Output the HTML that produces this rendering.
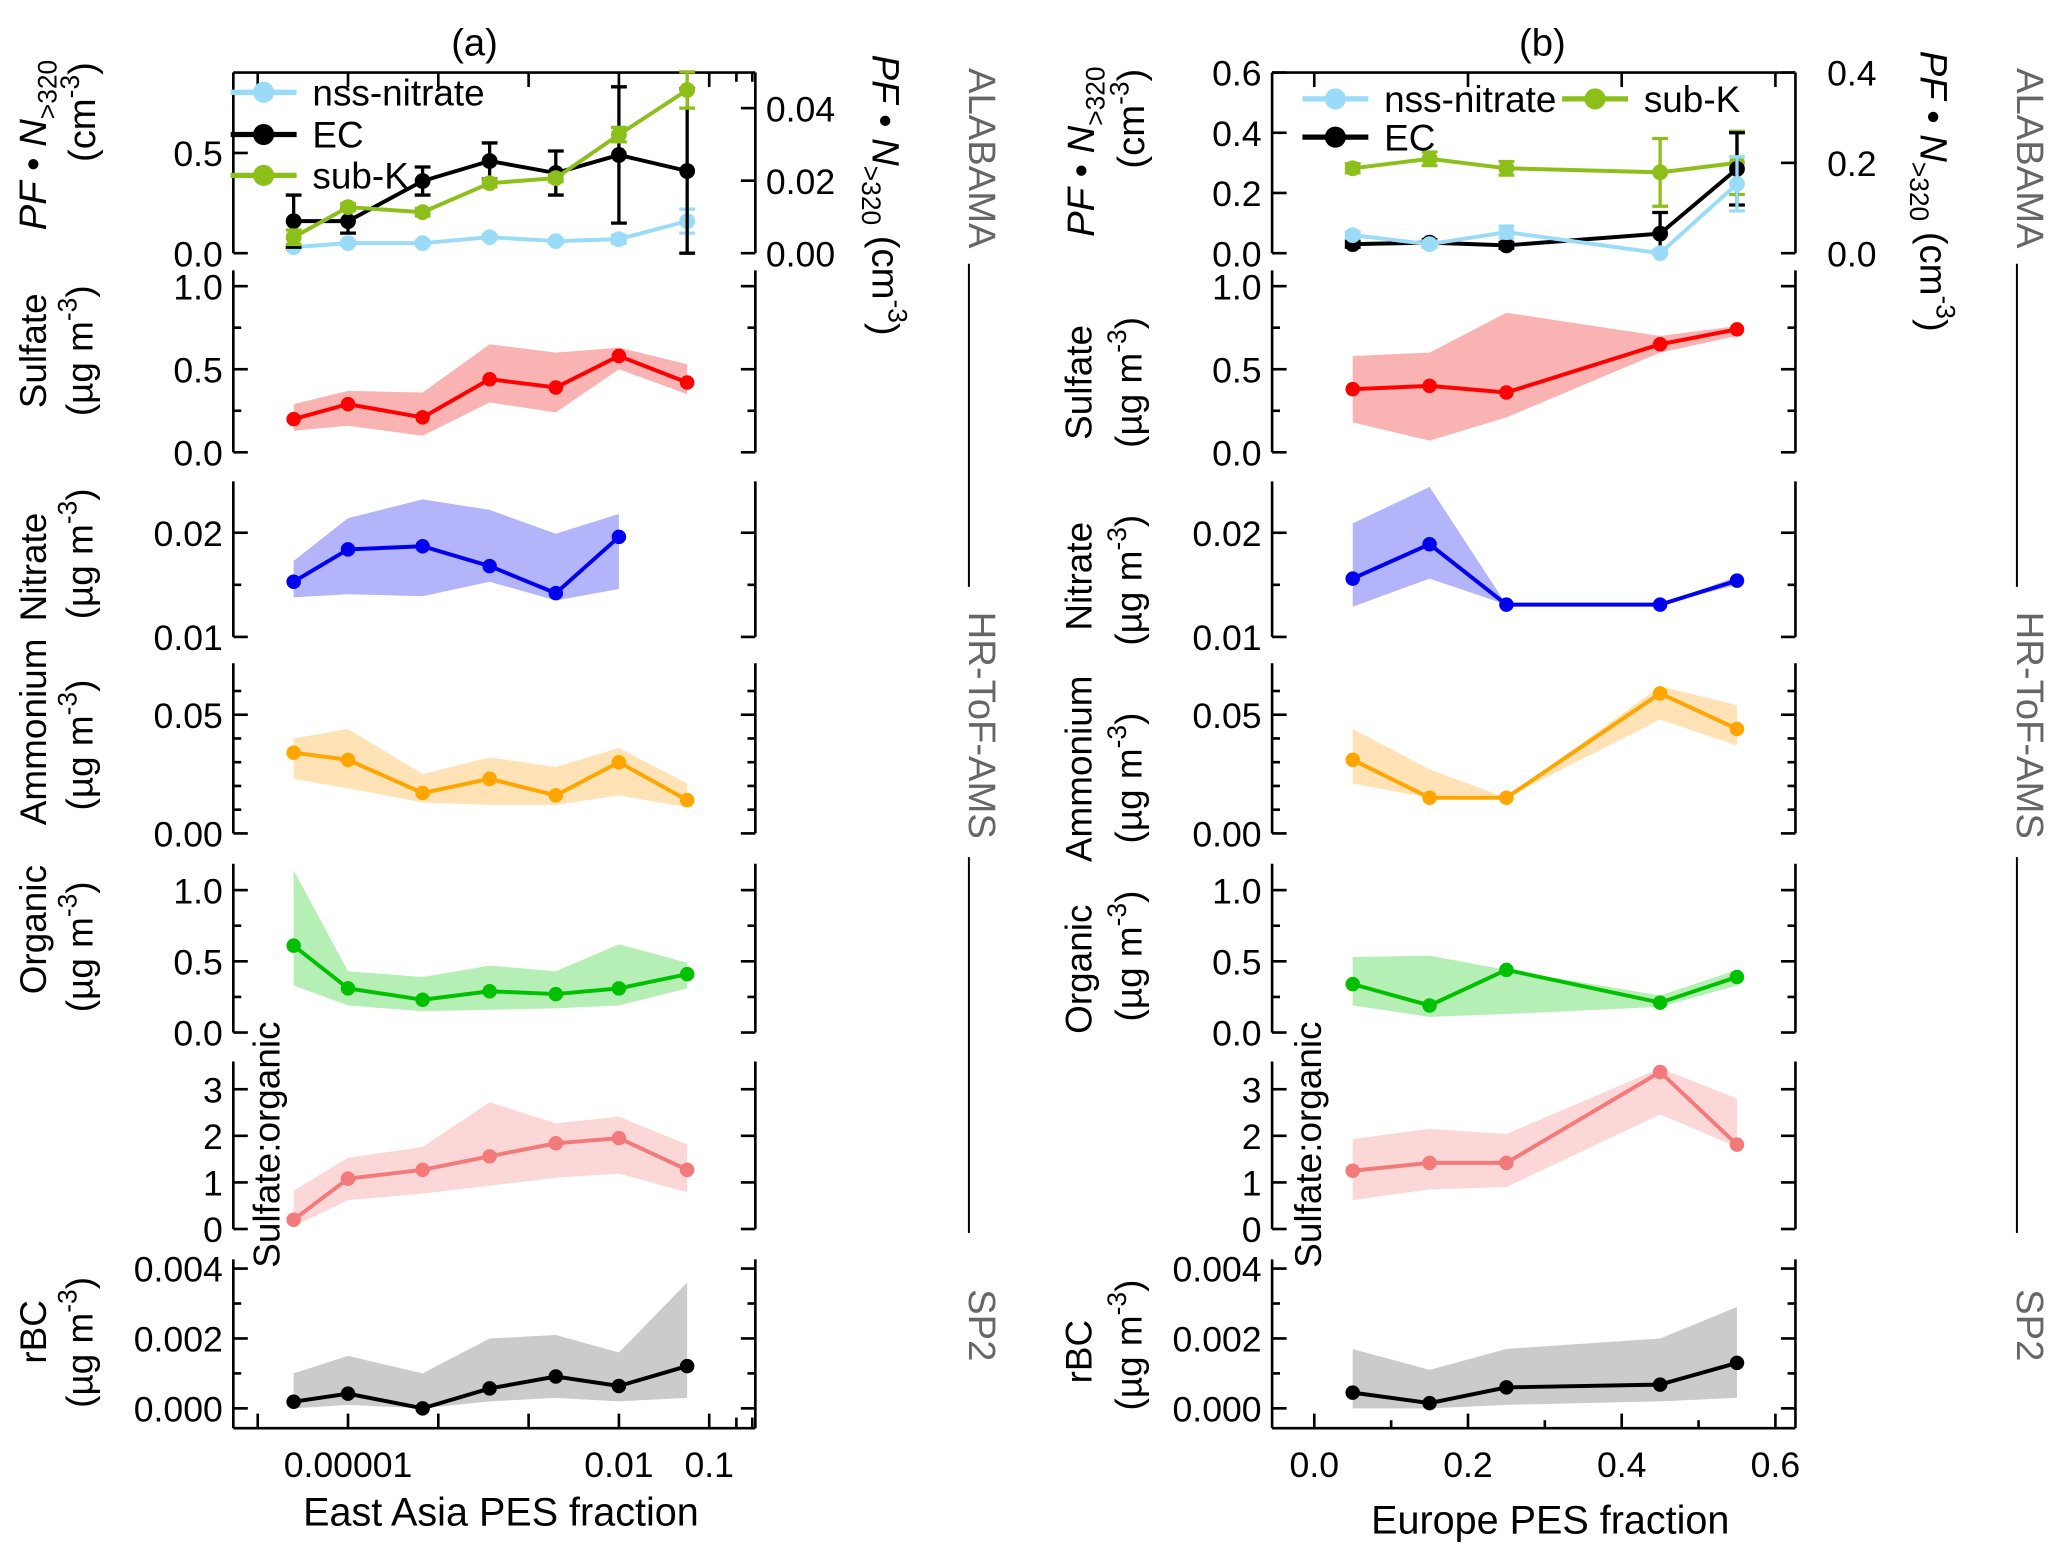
<!DOCTYPE html>
<html><head><meta charset="utf-8">
<style>
html,body{margin:0;padding:0;background:#fff;}
svg{display:block;font-family:"Liberation Sans",sans-serif;}
</style></head>
<body>
<svg id="fig" width="2067" height="1560" viewBox="0 0 1568 1183" preserveAspectRatio="none" xmlns="http://www.w3.org/2000/svg"></svg>
<script>
// ---------- data ----------
const xA = [2.5e-6, 1e-5, 6.7e-5, 3.7e-4, 2e-3, 0.01, 0.057];
const xB = [0.05, 0.15, 0.25, 0.45, 0.55];

const aNss = [0.03,0.05,0.05,0.08,0.06,0.07,0.16];
const aNssErr = [0.01,0.01,0.01,0.01,0.01,0.02,0.06];
const aEC = [0.16,0.16,0.36,0.46,0.40,0.49,0.41];
const aECErr = [0.13,0.06,0.07,0.09,0.11,0.34,0.41];
const aSubK = [0.0044,0.0127,0.0113,0.0193,0.0207,0.0327,0.045];
const aSubKErr = [0.002,0.001,0.001,0.001,0.001,0.002,0.005];

const bNss = [0.06,0.03,0.07,0.0,0.23];
const bNssErr = [0.01,0.01,0.02,0.01,0.09];
const bEC = [0.03,0.035,0.026,0.065,0.28];
const bECErr = [0.01,0.01,0.01,0.07,0.12];
const bSubK = [0.188,0.209,0.188,0.179,0.2];
const bSubKErr = [0.01,0.015,0.015,0.075,0.07];

const aSulf = [0.20,0.29,0.21,0.44,0.39,0.58,0.42];
const aSulfHi = [0.29,0.37,0.36,0.65,0.60,0.63,0.53];
const aSulfLo = [0.13,0.16,0.10,0.30,0.24,0.50,0.35];
const bSulf = [0.38,0.40,0.36,0.65,0.74];
const bSulfHi = [0.58,0.60,0.84,0.70,0.76];
const bSulfLo = [0.18,0.07,0.21,0.60,0.70];

const aNit = [0.0153,0.0184,0.0187,0.0168,0.0142,0.0196];
const aNitHi = [0.0173,0.0214,0.0232,0.0222,0.0199,0.0218];
const aNitLo = [0.0138,0.0141,0.0139,0.0153,0.0135,0.0146];
const bNit = [0.0156,0.0189,0.0131,0.0131,0.0154];
const bNitHi = [0.0209,0.0244,0.0131,0.0131,0.0158];
const bNitLo = [0.0129,0.0156,0.0131,0.0131,0.0150];

const aAmm = [0.034,0.031,0.017,0.023,0.016,0.030,0.014];
const aAmmHi = [0.040,0.044,0.025,0.032,0.028,0.036,0.021];
const aAmmLo = [0.023,0.019,0.013,0.012,0.012,0.016,0.011];
const bAmm = [0.031,0.015,0.015,0.059,0.044];
const bAmmHi = [0.044,0.027,0.015,0.062,0.054];
const bAmmLo = [0.021,0.015,0.015,0.048,0.037];

const aOrg = [0.61,0.31,0.23,0.29,0.27,0.31,0.41];
const aOrgHi = [1.14,0.43,0.39,0.47,0.43,0.62,0.49];
const aOrgLo = [0.33,0.19,0.15,0.16,0.17,0.19,0.31];
const bOrg = [0.34,0.19,0.44,0.21,0.39];
const bOrgHi = [0.53,0.54,0.44,0.26,0.44];
const bOrgLo = [0.19,0.11,0.13,0.18,0.33];

const aSO = [0.2,1.08,1.27,1.56,1.84,1.95,1.27];
const aSOHi = [0.82,1.53,1.76,2.72,2.27,2.41,1.81];
const aSOLo = [0.06,0.62,0.76,0.93,1.10,1.19,0.79];
const bSO = [1.25,1.42,1.42,3.37,1.81];
const bSOHi = [1.93,2.15,2.04,3.45,2.8];
const bSOLo = [0.62,0.85,0.9,2.46,1.76];

const aBC = [0.00019,0.00042,0.0,0.00057,0.00091,0.00064,0.00121];
const aBCHi = [0.001,0.0015,0.001,0.002,0.0021,0.0016,0.0036];
const aBCLo = [0,0.0001,0,0.0002,0.0003,0.0002,0.0003];
const bBC = [0.00045,0.00015,0.0006,0.00068,0.0013];
const bBCHi = [0.0017,0.0011,0.0017,0.002,0.0029];
const bBCLo = [0,0,0.0001,0.0002,0.0003];

// ---------- helpers ----------
const NS="http://www.w3.org/2000/svg";
const svg=document.getElementById('fig');
function el(tag,attrs,parent){const e=document.createElementNS(NS,tag);for(const k in attrs)e.setAttribute(k,attrs[k]);(parent||svg).appendChild(e);return e;}
function txt(s,x,y,opts,parent){const t=el('text',Object.assign({x:x,y:y,'font-size':27,fill:'#000'},opts||{}),parent);t.textContent=s;return t;}

const xScaleA=v=>264+(Math.log10(v)+5)*68.5;
const xScaleB=v=>997+v*583;
const L={a:[177,573],b:[965,1362]};
function lin(v0,p0,v1,p1){return v=>p0+(v-v0)*(p1-p0)/(v1-v0);}

function axisV(x,y0,y1,dir,ticks,sc,fmt,labels,name){
  const g=el('g',{});
  
  
  el('line',{x1:x,y1:y0,x2:x,y2:y1,stroke:'#000','stroke-width':2},g);
  ticks.forEach(v=>{const y=sc(v);el('line',{x1:x,y1:y,x2:x+dir*11,y2:y,stroke:'#000','stroke-width':2},g);
    if(labels){txt(fmt(v),dir>0?x-8:x+8,y+10,{'text-anchor':dir>0?'end':'start'},g);}});
}
function band(xs,lo,hi,xf,yf,col,name){
  let d='';xs.forEach((v,i)=>{d+=(i?'L':'M')+xf(v)+','+yf(hi[i]);});
  for(let i=xs.length-1;i>=0;i--)d+='L'+xf(xs[i])+','+yf(lo[i]);
  const p=el('path',{d:d+'Z',fill:col,stroke:'none'});
  
  
}
function series(xs,ys,xf,yf,col,name,r){
  const g=el('g',{});
  
  
  el('polyline',{points:ys.map((v,i)=>xf(xs[i])+','+yf(v)).join(' '),fill:'none',stroke:col,'stroke-width':3},g);
  ys.forEach((v,i)=>{const c=el('circle',{cx:xf(xs[i]),cy:yf(v),r:r||5.5,fill:col},g);
    
    });
}
function errs(xs,ys,es,xf,yf,col,name){
  const g=el('g',{});
  
  
  ys.forEach((v,i)=>{const x=xf(xs[i]),a=yf(v+es[i]),b=yf(Math.max(0,v-es[i]));
    el('path',{d:`M${x},${a}V${b}M${x-6},${a}H${x+6}M${x-6},${b}H${x+6}`,stroke:col,'stroke-width':2.5,fill:'none'},g);});
}
function ugm(x,y,name){
  const t=el('text',{'font-size':28,'text-anchor':'middle',transform:`translate(${x},${y}) rotate(-90)`});
  
  
  t.innerHTML='(µg m<tspan dy="-12" font-size="20">-3</tspan><tspan dy="12">)</tspan>';
}
function ylab(s,x,y,name){
  const t=el('text',{'font-size':28,'text-anchor':'middle',transform:`translate(${x},${y}) rotate(-90)`});
  
  
  t.textContent=s;
}

// ---------- panels ----------
const panels=[
 {key:'sulfate',top:205,bot:343,ticks:[0,0.5,1.0],minor:[0.25,0.75],v0:0,p0:343,v1:1,p1:217,f:v=>v.toFixed(1),col:'#ff0000',bcol:'#f9b3b3',
  a:[aSulf,aSulfLo,aSulfHi],b:[bSulf,bSulfLo,bSulfHi]},
 {key:'nitrate',top:365,bot:483,ticks:[0.01,0.02],minor:[0.015],v0:0.01,p0:483,v1:0.02,p1:404,f:v=>v.toFixed(2),col:'#0000ee',bcol:'#b4b4fb',
  a:[aNit,aNitLo,aNitHi],b:[bNit,bNitLo,bNitHi]},
 {key:'ammonium',top:503,bot:632,ticks:[0,0.05],minor:[0.01,0.02,0.03,0.04,0.06],v0:0,p0:632,v1:0.05,p1:542,f:v=>v.toFixed(2),col:'#ffa500',bcol:'#ffe2b6',
  a:[aAmm,aAmmLo,aAmmHi],b:[bAmm,bAmmLo,bAmmHi]},
 {key:'organic',top:655,bot:783,ticks:[0,0.5,1.0],minor:[0.25,0.75],v0:0,p0:783,v1:1,p1:675,f:v=>v.toFixed(1),col:'#00c000',bcol:'#b6efb6',
  a:[aOrg,aOrgLo,aOrgHi],b:[bOrg,bOrgLo,bOrgHi]},
 {key:'sulfate-organic',top:805,bot:932,ticks:[0,1,2,3],minor:[],v0:0,p0:932,v1:3,p1:826,f:v=>String(v),col:'#f37a7a',bcol:'#fcd7d7',
  a:[aSO,aSOLo,aSOHi],b:[bSO,bSOLo,bSOHi]},
 {key:'rbc',top:955,bot:1083,ticks:[0,0.002,0.004],minor:[0.001,0.003],v0:0,p0:1068,v1:0.002,p1:1015,f:v=>v.toFixed(3),col:'#000000',bcol:'#cbcbcb',
  a:[aBC,aBCLo,aBCHi],b:[bBC,bBCLo,bBCHi]}
];

['a','b'].forEach(side=>{
  const [xl,xr]=L[side];
  const xf=side==='a'?xScaleA:xScaleB;
  const xs=side==='a'?xA:xB;
  panels.forEach(p=>{
    const yf=lin(p.v0,p.p0,p.v1,p.p1);
    const d=p[side];
    const xsx=xs.slice(0,d[0].length);
    band(xsx,d[1],d[2],xf,yf,p.bcol,`${p.key}-band-${side}`);
    series(xsx,d[0],xf,yf,p.col,`${p.key}-line-${side}`);
    axisV(xl,p.top,p.bot,1,p.ticks,yf,p.f,true,`${p.key}-y-axis-${side}`);
    axisV(xr,p.top,p.bot,-1,p.ticks,yf,p.f,false,`${p.key}-right-axis-${side}`);
    p.minor.forEach(v=>{const y=yf(v);el('line',{x1:xl,y1:y,x2:xl+6,y2:y,stroke:'#000','stroke-width':2});el('line',{x1:xr,y1:y,x2:xr-6,y2:y,stroke:'#000','stroke-width':2});});
  });
});

// ---------- top panels ----------
(function(){
  const yL=lin(0,192,0.5,116), yR=lin(0,192,0.02,137);
  const [xl,xr]=L.a;
  el('line',{x1:xl,y1:55,x2:xr,y2:55,stroke:'#000','stroke-width':2});
  [-6,-5,-4,-3,-2,-1].forEach(e=>{const x=xScaleA(Math.pow(10,e));if(x>xl&&x<xr)el('line',{x1:x,y1:55,x2:x,y2:66,stroke:'#000','stroke-width':2});});
  [0.2,0.3].forEach(v=>{const x=xScaleA(v);el('line',{x1:x,y1:55,x2:x,y2:62,stroke:'#000','stroke-width':2});});
  axisV(xl,55,192,1,[0,0.5],yL,v=>v.toFixed(1),true,'top-left-axis-a');
  axisV(xr,55,192,-1,[0,0.02,0.04],yR,v=>v.toFixed(2),false,'top-right-axis-a');
  [0,0.02,0.04].forEach(v=>txt(v.toFixed(2),xr+8,yR(v)+10,{}));
  errs(xA,aNss,aNssErr,xScaleA,yL,'#9adcf7','nss-nitrate-errors-a');
  series(xA,aNss,xScaleA,yL,'#9adcf7','nss-nitrate-line-a',6);
  errs(xA,aEC,aECErr,xScaleA,yL,'#000','ec-errors-a');
  series(xA,aEC,xScaleA,yL,'#000','ec-line-a',6);
  errs(xA,aSubK,aSubKErr,xScaleA,yR,'#8cbf1a','subk-errors-a');
  series(xA,aSubK,xScaleA,yR,'#8cbf1a','subk-line-a',6);
  const yLb=lin(0,192,0.6,55), yRb=lin(0,192,0.4,55);
  const [bl,br]=L.b;
  el('line',{x1:bl,y1:55,x2:br,y2:55,stroke:'#000','stroke-width':2});
  [0,0.2,0.4,0.6].forEach(v=>{const x=xScaleB(v);el('line',{x1:x,y1:55,x2:x,y2:66,stroke:'#000','stroke-width':2});});
  axisV(bl,55,192,1,[0,0.2,0.4,0.6],yLb,v=>v.toFixed(1),true,'top-left-axis-b');
  axisV(br,55,192,-1,[0,0.2,0.4],yRb,v=>v.toFixed(1),false,'top-right-axis-b');
  [0,0.2,0.4].forEach(v=>txt(v.toFixed(1),br+24,yRb(v)+10,{}));
  errs(xB,bSubK,bSubKErr,xScaleB,yRb,'#8cbf1a','subk-errors-b');
  series(xB,bSubK,xScaleB,yRb,'#8cbf1a','subk-line-b',6);
  errs(xB,bEC,bECErr,xScaleB,yLb,'#000','ec-errors-b');
  series(xB,bEC,xScaleB,yLb,'#000','ec-line-b',6);
  errs(xB,bNss,bNssErr,xScaleB,yLb,'#9adcf7','nss-nitrate-errors-b');
  series(xB,bNss,xScaleB,yLb,'#9adcf7','nss-nitrate-line-b',6);
})();

function legend(x,y,col,label,name){
  const g=el('g',{});
  
  
  el('line',{x1:x,y1:y,x2:x+50,y2:y,stroke:col,'stroke-width':4},g);
  el('circle',{cx:x+25,cy:y,r:8,fill:col},g);
  txt(label,x+62,y+10,{'font-size':28},g);
}
legend(175,70,'#9adcf7','nss-nitrate','legend-nss-nitrate-a');
legend(175,102,'#000','EC','legend-ec-a');
legend(175,133,'#8cbf1a','sub-K','legend-subk-a');
legend(988,75,'#9adcf7','nss-nitrate','legend-nss-nitrate-b');
legend(1185,75,'#8cbf1a','sub-K','legend-subk-b');
legend(988,104,'#000','EC','legend-ec-b');

(function(){
  const y=1083;
  let [xl,xr]=L.a;
  el('line',{x1:xl,y1:y,x2:xr,y2:y,stroke:'#000','stroke-width':2});
  [-6,-5,-4,-3,-2,-1].forEach(e=>{const x=xScaleA(Math.pow(10,e));if(x>xl&&x<xr)el('line',{x1:x,y1:y,x2:x,y2:y-11,stroke:'#000','stroke-width':2});});
  [0.2,0.3].forEach(v=>{const x=xScaleA(v);el('line',{x1:x,y1:y,x2:x,y2:y-8,stroke:'#000','stroke-width':2});});
  [['0.00001',1e-5],['0.01',0.01],['0.1',0.1]].forEach(([s,v])=>{const t=txt(s,xScaleA(v),y+37,{'text-anchor':'middle'});});
  [xl,xr]=L.b;
  el('line',{x1:xl,y1:y,x2:xr,y2:y,stroke:'#000','stroke-width':2});
  [0,0.1,0.2,0.3,0.4,0.5,0.6].forEach((v,i)=>{const x=xScaleB(v);el('line',{x1:x,y1:y,x2:x,y2:y-(i%2?6:11),stroke:'#000','stroke-width':2});
    if(i%2===0){const t=txt(v.toFixed(1),x,y+37,{'text-anchor':'middle'});}});
})();

let t;
t=txt('(a)',360,42,{'font-size':29,'text-anchor':'middle'});
t=txt('(b)',1170,42,{'font-size':29,'text-anchor':'middle'});
t=txt('East Asia PES fraction',380,1157,{'font-size':30,'text-anchor':'middle'});
t=txt('Europe PES fraction',1176,1163,{'font-size':30,'text-anchor':'middle'});

function pfLabel(x,y,rot,name){
  const g=el('text',{'font-size':29,'text-anchor':'middle',transform:`translate(${x},${y}) rotate(${rot})`});
  
  
  g.innerHTML='<tspan font-style="italic">PF</tspan> • <tspan font-style="italic">N</tspan><tspan dy="8" font-size="20">&gt;320</tspan><tspan dy="-8"> (cm</tspan><tspan dy="-12" font-size="20">-3</tspan><tspan dy="12">)</tspan>';
}
function pfSplit(x1,x2,y,name){
  const a=el('text',{'font-size':29,'text-anchor':'middle',transform:`translate(${x1},${y}) rotate(-90)`});
  
  
  a.innerHTML='<tspan font-style="italic">PF</tspan> • <tspan font-style="italic">N</tspan><tspan dy="8" font-size="20">&gt;320</tspan>';
  const b=el('text',{'font-size':29,'text-anchor':'middle',transform:`translate(${x2},${y-25}) rotate(-90)`});
  
  
  b.innerHTML='(cm<tspan dy="-12" font-size="20">-3</tspan><tspan dy="12">)</tspan>';
}
pfSplit(35,72,110,'top-left-axis-title-a');
pfSplit(830,868,115,'top-left-axis-title-b');
pfLabel(662,148,90,'top-right-axis-title-a');
pfLabel(1457,145,90,'top-right-axis-title-b');

ylab('Sulfate',35,266,'sulfate-title-a');ugm(70,266,'sulfate-units-a');
ylab('Nitrate',35,430,'nitrate-title-a');ugm(70,420,'nitrate-units-a');
ylab('Ammonium',35,555,'ammonium-title-a');ugm(70,565,'ammonium-units-a');
ylab('Organic',35,705,'organic-title-a');ugm(70,718,'organic-units-a');
ylab('Sulfate:organic',212,868,'sulfate-organic-title-a');
ylab('rBC',35,1010,'rbc-title-a');ugm(70,1018,'rbc-units-a');
ylab('Sulfate',828,290,'sulfate-title-b');ugm(866,290,'sulfate-units-b');
ylab('Nitrate',828,437,'nitrate-title-b');ugm(866,440,'nitrate-units-b');
ylab('Ammonium',828,583,'ammonium-title-b');ugm(866,590,'ammonium-units-b');
ylab('Organic',828,735,'organic-title-b');ugm(866,725,'organic-units-b');
ylab('Sulfate:organic',1002,868,'sulfate-organic-title-b');
ylab('rBC',828,1025,'rbc-title-b');ugm(866,1020,'rbc-units-b');

function inst(s,x,y,name){
  const e=el('text',{'font-size':29,fill:'#666','text-anchor':'middle',transform:`translate(${x},${y}) rotate(90)`});
  
  
  e.textContent=s;
}
[[735,'a'],[1530,'b']].forEach(([x,s])=>{
  inst('ALABAMA',x,120,'alabama-label-'+s);
  el('line',{x1:x,y1:200,x2:x,y2:445,stroke:'#000','stroke-width':1.5});
  inst('HR-ToF-AMS',x,550,'hr-tof-ams-label-'+s);
  el('line',{x1:x,y1:650,x2:x,y2:935,stroke:'#000','stroke-width':1.5});
  inst('SP2',x,1005,'sp2-label-'+s);
});
</script>
</body></html>
